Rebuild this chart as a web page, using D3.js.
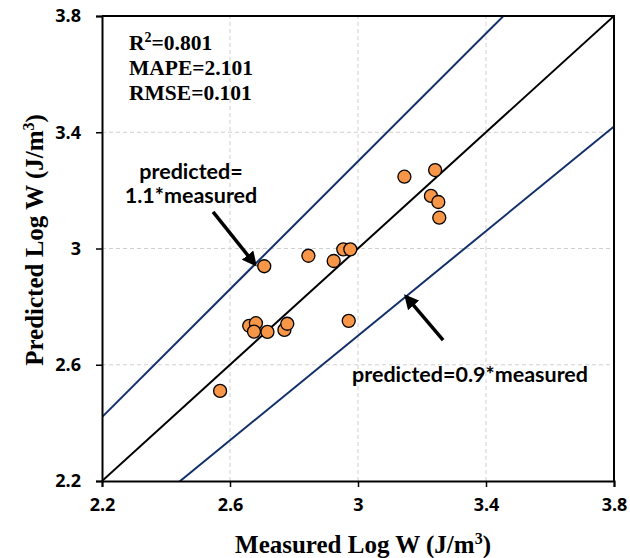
<!DOCTYPE html>
<html>
<head>
<meta charset="utf-8">
<script src="https://cdn.jsdelivr.net/npm/d3@7"></script>
<style>
  body { margin: 0; background: #fff; }
</style>
</head>
<body>
<div id="holder"></div>
<script>
// measured vs predicted log W
var measured  = [2.569, 2.660, 2.681, 2.675, 2.717, 2.770, 2.779, 2.707, 2.845, 2.924, 2.954, 2.976, 2.971, 3.145, 3.241, 3.228, 3.251, 3.254];
var predicted = [2.510, 2.734, 2.743, 2.714, 2.713, 2.720, 2.741, 2.939, 2.975, 2.957, 2.997, 2.997, 2.751, 3.247, 3.270, 3.181, 3.160, 3.106];
var tickValues = [2.2, 2.6, 3, 3.4, 3.8];
var ratios = [1.1, 1, 0.9];
var stats = [["R", "2", "=0.801"], ["MAPE", "", "=2.101"], ["RMSE", "", "=0.101"]];

var WIDTH = 630, HEIGHT = 558,
    MARGINS = {top: 16, right: 16, bottom: 77, left: 102};
var sansFont = "Lato, 'Open Sans', sans-serif";

var svg = d3.select("#holder").append("svg")
    .attr("width", WIDTH)
    .attr("height", HEIGHT);

var x = d3.scaleLinear().domain([2.2, 3.8]).range([MARGINS.left, WIDTH - MARGINS.right]);
var y = d3.scaleLinear().domain([2.2, 3.8]).range([HEIGHT - MARGINS.bottom, MARGINS.top]);

var defs = svg.append("defs");
defs.append("clipPath").attr("id", "clip")
  .append("rect")
    .attr("x", x(2.2)).attr("y", y(3.8))
    .attr("width", x(3.8) - x(2.2)).attr("height", y(2.2) - y(3.8));
defs.append("marker")
    .attr("id", "arrow").attr("viewBox", "0 0 10 10")
    .attr("refX", 8).attr("refY", 5)
    .attr("markerWidth", 4.2).attr("markerHeight", 4.2)
    .attr("orient", "auto")
  .append("path").attr("d", "M0,0L10,5L0,10z").attr("fill", "#000");

// grid
var grid = svg.append("g");
tickValues.slice(1, -1).forEach(function(t) {
  grid.append("line")
      .attr("x1", x(t)).attr("x2", x(t)).attr("y1", y(2.2)).attr("y2", y(3.8))
      .attr("stroke", "#d0d0d0").attr("stroke-dasharray", "4,3");
  grid.append("line")
      .attr("y1", y(t)).attr("y2", y(t)).attr("x1", x(2.2)).attr("x2", x(3.8))
      .attr("stroke", "#d0d0d0").attr("stroke-dasharray", "4,3");
});

// reference lines
var lines = svg.append("g").attr("clip-path", "url(#clip)");
ratios.forEach(function(r) {
  lines.append("line")
      .attr("x1", x(2.2)).attr("y1", y(2.2 * r))
      .attr("x2", x(3.8)).attr("y2", y(3.8 * r))
      .attr("stroke", r == 1 ? "#000" : "#13306a")
      .attr("stroke-width", 2);
});

// axes
var xAxis = svg.append("g")
    .attr("transform", "translate(0," + y(2.2) + ")")
    .call(d3.axisBottom(x).tickValues(tickValues).tickFormat(d3.format("")).tickSizeOuter(0).tickSize(6).tickPadding(11));
var yAxis = svg.append("g")
    .attr("transform", "translate(" + x(2.2) + ",0)")
    .call(d3.axisLeft(y).tickValues(tickValues).tickFormat(d3.format("")).tickSizeOuter(0).tickSize(6).tickPadding(15));
[xAxis, yAxis].forEach(function(a) {
  a.select(".domain").attr("stroke", "#000").attr("stroke-width", 2);
  a.selectAll(".tick line").attr("stroke", "#000").attr("stroke-width", 1.5);
  a.selectAll(".tick text")
      .attr("fill", "#000")
      .style("font-family", "'Open Sans', sans-serif")
      .style("font-size", "18px")
      .style("font-weight", "bold");
});

// top and right border
svg.append("path")
    .attr("d", "M" + x(2.2) + "," + y(3.8) + "H" + x(3.8) + "V" + y(2.2))
    .attr("fill", "none").attr("stroke", "#000").attr("stroke-width", 2);

// points
svg.append("g").selectAll("circle")
    .data(measured)
  .enter().append("circle")
    .attr("cx", function(d) { return x(d); })
    .attr("cy", function(d, i) { return y(predicted[i]); })
    .attr("r", 6.5)
    .attr("fill", "#f79646")
    .attr("stroke", "#000")
    .attr("stroke-width", 1.3);

// stats
stats.forEach(function(s, i) {
  var t = svg.append("text")
      .attr("x", 129).attr("y", 50 + i * 25)
      .attr("font-family", "Liberation Serif, serif").attr("font-weight", "bold").attr("font-size", 21.5);
  t.append("tspan").text(s[0]);
  if (s[1]) t.append("tspan").attr("dy", -8).attr("font-size", 14).text(s[1]);
  t.append("tspan").attr("dy", s[1] ? 8 : 0).text(s[2]);
});

// annotations
var ann = svg.append("g")
    .attr("font-family", sansFont).attr("font-weight", "bold").attr("font-size", 21.5);
ann.append("text").attr("x", 191).attr("y", 179).attr("text-anchor", "middle").text("predicted=");
ann.append("text").attr("x", 191).attr("y", 203).attr("text-anchor", "middle").text("1.1*measured");
ann.append("text").attr("x", 352).attr("y", 382).text("predicted=0.9*measured");

// arrows point at the 1.1 and 0.9 lines
[[2.547, 3.126, 2.678, 1.1], [3.266, 2.685, 3.15, 0.9]].forEach(function(a) {
  svg.append("line")
      .attr("x1", x(a[0])).attr("y1", y(a[1]))
      .attr("x2", x(a[2])).attr("y2", y(a[2] * a[3]))
      .attr("stroke", "#000").attr("stroke-width", 3.5)
      .attr("marker-end", "url(#arrow)");
});

// axis titles
svg.append("text")
    .attr("x", 363).attr("y", 553)
    .attr("text-anchor", "middle")
    .attr("font-family", "Liberation Serif, serif").attr("font-weight", "bold").attr("font-size", 25)
    .html("Measured Log W (J/m<tspan dy='-9' font-size='16'>3</tspan><tspan dy='9'>)</tspan>");
svg.append("text")
    .attr("transform", "translate(43,240) rotate(-90)")
    .attr("text-anchor", "middle")
    .attr("font-family", "Liberation Serif, serif").attr("font-weight", "bold").attr("font-size", 25)
    .html("Predicted Log W (J/m<tspan dy='-9' font-size='16'>3</tspan><tspan dy='9'>)</tspan>");
</script>
</body>
</html>
